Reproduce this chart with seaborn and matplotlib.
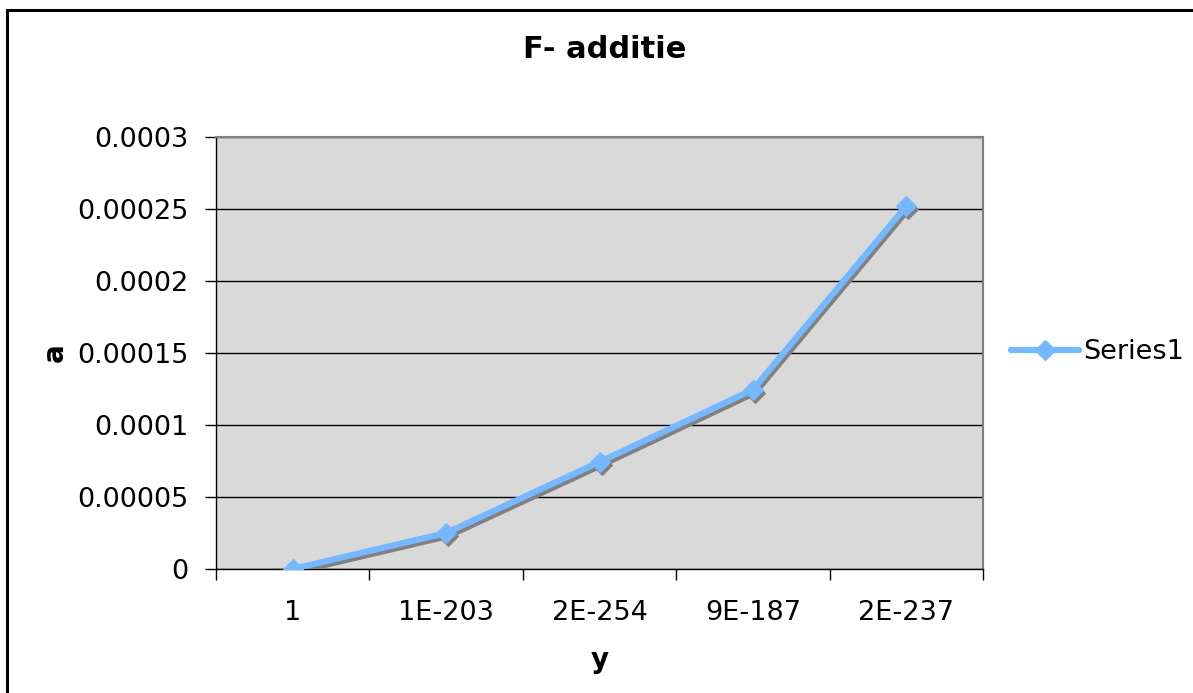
import matplotlib
matplotlib.use("Agg")
import matplotlib.pyplot as plt
from matplotlib.patches import Rectangle
from matplotlib.lines import Line2D
from matplotlib.transforms import offset_copy
import seaborn as sns
import pandas as pd
import numpy as np

categories = ["1", "1E-203", "2E-254", "9E-187", "2E-237"]
values = [0.0, 0.000025, 0.0000743, 0.0001245, 0.000252]
y_ticks = [0, 0.00005, 0.0001, 0.00015, 0.0002, 0.00025, 0.0003]
y_tick_labels = ["0", "0.00005", "0.0001", "0.00015", "0.0002", "0.00025", "0.0003"]
series_name = "Series1"
title = "F- additie"
x_label = "y"
y_label = "a"

sns.set_style("white")
plt.rcParams["font.family"] = ["DejaVu Sans"]
plt.rcParams["text.color"] = "black"
plt.rcParams["xtick.color"] = "black"
plt.rcParams["ytick.color"] = "black"

W, H = 1193, 693
fig = plt.figure(figsize=(W / 100, H / 100), dpi=100)
ax = fig.add_axes([216 / W, 1 - 569 / H, (983 - 216) / W, (569 - 137) / H])

df = pd.DataFrame({"pos": list(range(len(categories))), "val": values})
color = "#75B8FF"
shadow_tr = offset_copy(ax.transData, fig=fig, x=2, y=-3, units="dots")
sns.lineplot(data=df, x="pos", y="val", ax=ax, color="#808080", lw=4.5,
             marker="D", markersize=10.5, markeredgecolor="#808080",
             transform=shadow_tr, zorder=4)
sns.lineplot(data=df, x="pos", y="val", ax=ax, color=color, lw=4.5,
             marker="D", markersize=10.5, markeredgecolor=color, zorder=5)

ax.set_facecolor("#D9D9D9")
ax.set_xlim(-0.5, len(categories) - 0.5)
ax.set_ylim(0, 0.0003)
ax.set_yticks(y_ticks)
ax.set_yticklabels(y_tick_labels, fontsize=19.5)
ax.yaxis.grid(True, color="#000000", lw=1.0)
ax.xaxis.grid(False)
ax.set_axisbelow(True)

ax.set_xticks(np.arange(-0.5, len(categories), 1.0))
ax.set_xticklabels([""] * (len(categories) + 1))
ax.set_xticks(list(range(len(categories))), minor=True)
ax.set_xticklabels(categories, minor=True, fontsize=19.5)
ax.tick_params(axis="x", which="major", bottom=True, direction="out", length=8, width=1, color="black")
ax.tick_params(axis="x", which="minor", bottom=True, length=0, pad=22)
ax.tick_params(axis="y", left=True, direction="out", length=8, width=1, color="black", pad=12)

for s in ["left", "bottom"]:
    ax.spines[s].set_color("black")
    ax.spines[s].set_linewidth(1.0)
for s in ["right", "top"]:
    ax.spines[s].set_color("#808080")
    ax.spines[s].set_linewidth(1.5)

ax.set_xlabel("")
ax.set_ylabel("")
fig.text(605 / W, 1 - 50 / H, title, ha="center", va="center", fontsize=22, fontweight="bold")
fig.text(600 / W, 1 - 660 / H, x_label, ha="center", va="center", fontsize=20, fontweight="bold")
fig.text(55 / W, 1 - 353 / H, y_label, ha="center", va="center", fontsize=20, fontweight="bold", rotation=90)

# legend
leg_handle = Line2D([0], [0], color=color, lw=4.5, marker="D", markersize=10.5, markeredgecolor=color)
ax.legend([leg_handle], [series_name], loc="center left", bbox_to_anchor=(1011 / W, 1 - 352 / H),
          bbox_transform=fig.transFigure, frameon=False, fontsize=19.5, handlelength=2.5,
          handletextpad=0.15, borderaxespad=0, borderpad=0)

# chart border
fig.patches.append(Rectangle((7 / W, -0.05), 1.2, 1 - 10 / H + 0.05, transform=fig.transFigure,
                             fill=False, edgecolor="black", lw=2.2))

fig.savefig("out.png", dpi=100, facecolor="white")
